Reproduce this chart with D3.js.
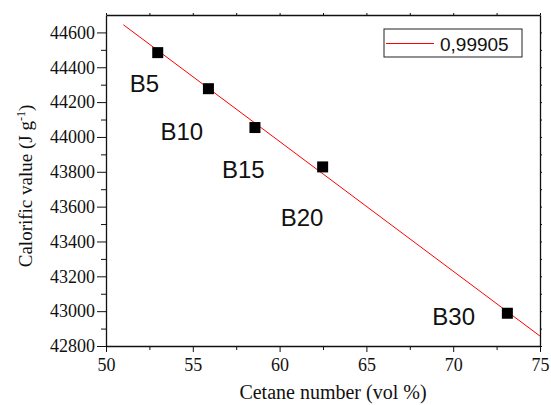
<!DOCTYPE html>
<html>
<head>
<meta charset="utf-8">
<script src="https://cdn.jsdelivr.net/npm/d3@7"></script>
<style>
  body { margin: 0; background: #fff; }
  svg { display: block; }
</style>
</head>
<body>
<div id="chart-area"></div>
<script>
// data
var cetane = [52.98, 55.9, 58.58, 62.48, 73.12];
var calorific = [44484, 44277, 44054, 43828, 42988];
var blends = ["B5", "B10", "B15", "B20", "B30"];
var labelDx = [-28, -48, -33, -42, -75];   // px from the point
var labelDy = [39, 51, 50, 59, 12];
var fitX = [51, 75];
var fitY = [44644, 42857];
var xTicks = [50, 55, 60, 65, 70, 75];
var yTicks = [42800, 43000, 43200, 43400, 43600, 43800, 44000, 44200, 44400, 44600];
var legendText = "0,99905";

var margin = { left: 106, right: 11, top: 15, bottom: 59 };
var width = 551 - margin.left - margin.right,
    height = 405 - margin.top - margin.bottom;

var svg = d3.select("#chart-area")
    .append("svg")
        .attr("width", 551)
        .attr("height", 405);

var g = svg.append("g")
    .attr("transform", "translate(" + margin.left + "," + margin.top + ")");

var x = d3.scaleLinear()
    .domain([50, 75])
    .range([0, width]);

var y = d3.scaleLinear()
    .domain([42800, 44700])
    .range([height, 0]);

var serif = "Liberation Serif, Times New Roman, serif";
var sans = "Arial, Liberation Sans, sans-serif";

// minor ticks
var xMinor = d3.range(52.5, 75, 5);
var yMinor = d3.range(42900, 44700, 200);

// bottom axis
var xAxisGroup = g.append("g")
    .attr("transform", "translate(0," + height + ")")
    .call(d3.axisBottom(x).tickValues(xTicks).tickSize(6).tickSizeOuter(0).tickPadding(6))
    .attr("font-family", serif)
    .attr("font-size", 18);
xAxisGroup.selectAll("text").attr("fill", "#111");
g.append("g")
    .attr("transform", "translate(0," + height + ")")
    .call(d3.axisBottom(x).tickValues(xMinor).tickSize(4).tickFormat(""))
    .select(".domain").remove();

// left axis
var yAxisGroup = g.append("g")
    .call(d3.axisLeft(y).tickValues(yTicks).tickFormat(d3.format("d"))
        .tickSize(9).tickSizeOuter(0).tickPadding(2))
    .attr("font-family", serif)
    .attr("font-size", 18);
yAxisGroup.selectAll("text").attr("fill", "#111");
g.append("g")
    .call(d3.axisLeft(y).tickValues(yMinor).tickSize(5).tickFormat(""))
    .select(".domain").remove();

// top and right axes (ticks only)
g.append("g")
    .call(d3.axisTop(x).tickValues(xTicks.concat(xMinor)).tickSize(2).tickSizeOuter(0).tickFormat(""));
g.append("g")
    .attr("transform", "translate(" + width + ",0)")
    .call(d3.axisRight(y).tickValues(yTicks.concat(yMinor)).tickSize(2).tickSizeOuter(0).tickFormat(""));

g.selectAll(".domain").attr("stroke", "#111").attr("stroke-width", 1.3);
g.selectAll(".tick line").attr("stroke", "#111");

// fit line
var line = d3.line()
    .x(function(d){ return x(d[0]); })
    .y(function(d){ return y(d[1]); });

g.append("path")
    .datum(d3.zip(fitX, fitY))
    .attr("d", line)
    .attr("fill", "none")
    .attr("stroke", "#ff0000")
    .attr("stroke-width", 1);

// points
var pts = d3.zip(cetane, calorific);
var sq = 11;
g.selectAll("rect.pt")
    .data(pts)
    .enter()
    .append("rect")
        .attr("class", "pt")
        .attr("x", function(d){ return x(d[0]) - sq / 2; })
        .attr("y", function(d){ return y(d[1]) - sq / 2; })
        .attr("width", sq)
        .attr("height", sq)
        .attr("fill", "#000");

// blend labels
g.selectAll("text.blend")
    .data(blends)
    .enter()
    .append("text")
        .attr("class", "blend")
        .attr("x", function(d, i){ return x(cetane[i]) + labelDx[i]; })
        .attr("y", function(d, i){ return y(calorific[i]) + labelDy[i]; })
        .attr("font-family", sans)
        .attr("font-size", 24)
        .attr("fill", "#111")
        .text(function(d){ return d; });

// legend
var leg = svg.append("g").attr("transform", "translate(384,29)");
leg.append("rect")
    .attr("width", 138)
    .attr("height", 28)
    .attr("fill", "#fff")
    .attr("stroke", "#222")
    .attr("stroke-width", 1);
leg.append("line")
    .attr("x1", 2).attr("x2", 50)
    .attr("y1", 14.5).attr("y2", 14.5)
    .attr("stroke", "#ff0000")
    .attr("stroke-width", 1);
leg.append("text")
    .attr("x", 56)
    .attr("y", 21.5)
    .attr("font-family", sans)
    .attr("font-size", 19)
    .attr("fill", "#111")
    .text(legendText);

// axis labels
svg.append("text")
    .attr("x", 333)
    .attr("y", 399)
    .attr("text-anchor", "middle")
    .attr("font-family", serif)
    .attr("font-size", 20)
    .attr("fill", "#111")
    .text("Cetane number (vol %)");

var yl = svg.append("text")
    .attr("transform", "translate(32,186) rotate(-90)")
    .attr("text-anchor", "middle")
    .attr("font-family", serif)
    .attr("font-size", 19)
    .attr("fill", "#111");
yl.append("tspan").text("Calorific value (J g");
yl.append("tspan").attr("dy", -7).attr("font-size", 12).text("-1");
yl.append("tspan").attr("dy", 7).text(")");
</script>
</body>
</html>
